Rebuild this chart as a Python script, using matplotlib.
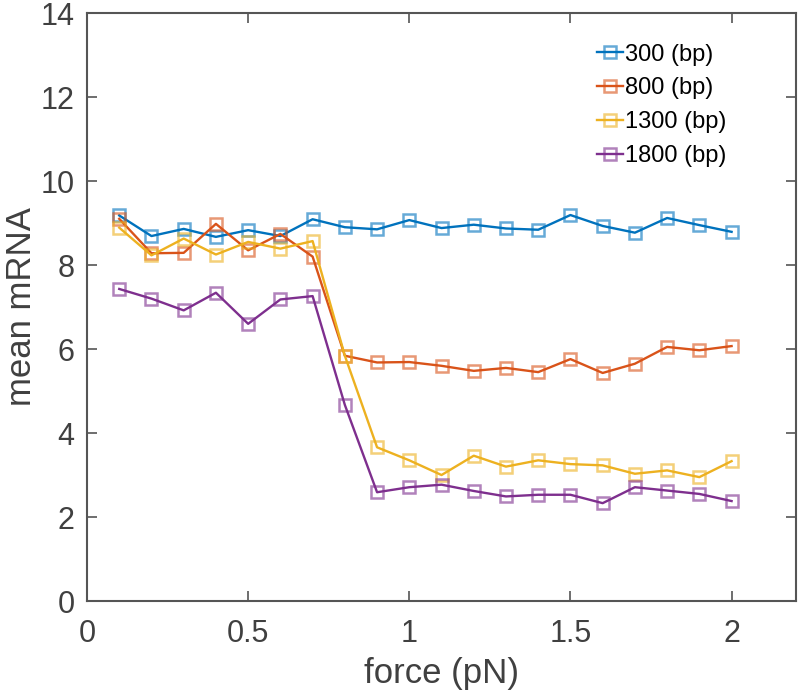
import numpy as np
import matplotlib
matplotlib.use('Agg')
import matplotlib.pyplot as plt

plt.rcParams['font.family'] = ['Liberation Sans', 'DejaVu Sans']

# force values (pN)
force = [0.1, 0.2, 0.3, 0.4, 0.5, 0.6, 0.7, 0.8, 0.9, 1.0,
         1.1, 1.2, 1.3, 1.4, 1.5, 1.6, 1.7, 1.8, 1.9, 2.0]

# mean mRNA for each gene length
m300 = [9.18, 8.69, 8.86, 8.67, 8.83, 8.69, 9.09, 8.90, 8.85, 9.07,
        8.88, 8.96, 8.87, 8.84, 9.19, 8.93, 8.77, 9.12, 8.95, 8.79]
m800 = [9.10, 8.28, 8.29, 8.98, 8.35, 8.74, 8.20, 5.84, 5.68, 5.69,
        5.60, 5.48, 5.55, 5.45, 5.76, 5.43, 5.65, 6.05, 5.97, 6.07]
m1300 = [8.89, 8.23, 8.63, 8.25, 8.55, 8.39, 8.57, 5.84, 3.66, 3.35,
         3.00, 3.46, 3.20, 3.35, 3.26, 3.23, 3.03, 3.11, 2.95, 3.33]
m1800 = [7.43, 7.20, 6.92, 7.34, 6.60, 7.18, 7.26, 4.67, 2.59, 2.71,
         2.77, 2.62, 2.49, 2.53, 2.53, 2.33, 2.71, 2.63, 2.55, 2.38]

labels = ['300 (bp)', '800 (bp)', '1300 (bp)', '1800 (bp)']
colors = ['#0072BD', '#D95319', '#EDB120', '#7E2F8E']

fig = plt.figure(figsize=(7.99, 7.0), dpi=100)
ax = fig.add_axes([0.1089, 0.1414, 0.8874, 0.84])

for y, lab, c in zip([m300, m800, m1300, m1800], labels, colors):
    mec = matplotlib.colors.to_rgba(c, 0.6)
    ax.plot(force, y, '-s', color=c, lw=1.7, ms=8, mfc='none', mec=mec,
            mew=1.8, label=lab)

ax.set_xlim(0, 2.2)
ax.set_ylim(0, 14)
ax.set_xticks([0, 0.5, 1, 1.5, 2])
ax.set_xticklabels(['0', '0.5', '1', '1.5', '2'])
ax.set_yticks(range(0, 15, 2))

axcol = '#404040'
for s in ax.spines.values():
    s.set_color('#555555')
    s.set_linewidth(1.5)
ax.tick_params(direction='in', length=7, width=1.2, color='#555555',
               labelsize=22, labelcolor=axcol, top=True, right=True)
ax.tick_params(axis='x', pad=13)
ax.tick_params(axis='y', pad=9)

ax.set_xlabel('force (pN)', fontsize=25, color=axcol, labelpad=6)
ax.set_ylabel('mean mRNA', fontsize=25, color=axcol, labelpad=2)

ax.legend(loc='upper left', bbox_to_anchor=(0.719, 0.948), frameon=False,
          fontsize=17, handlelength=1.1, handletextpad=0.1, labelspacing=0.5,
          borderaxespad=0, borderpad=0)

fig.savefig('out.png', dpi=100)
